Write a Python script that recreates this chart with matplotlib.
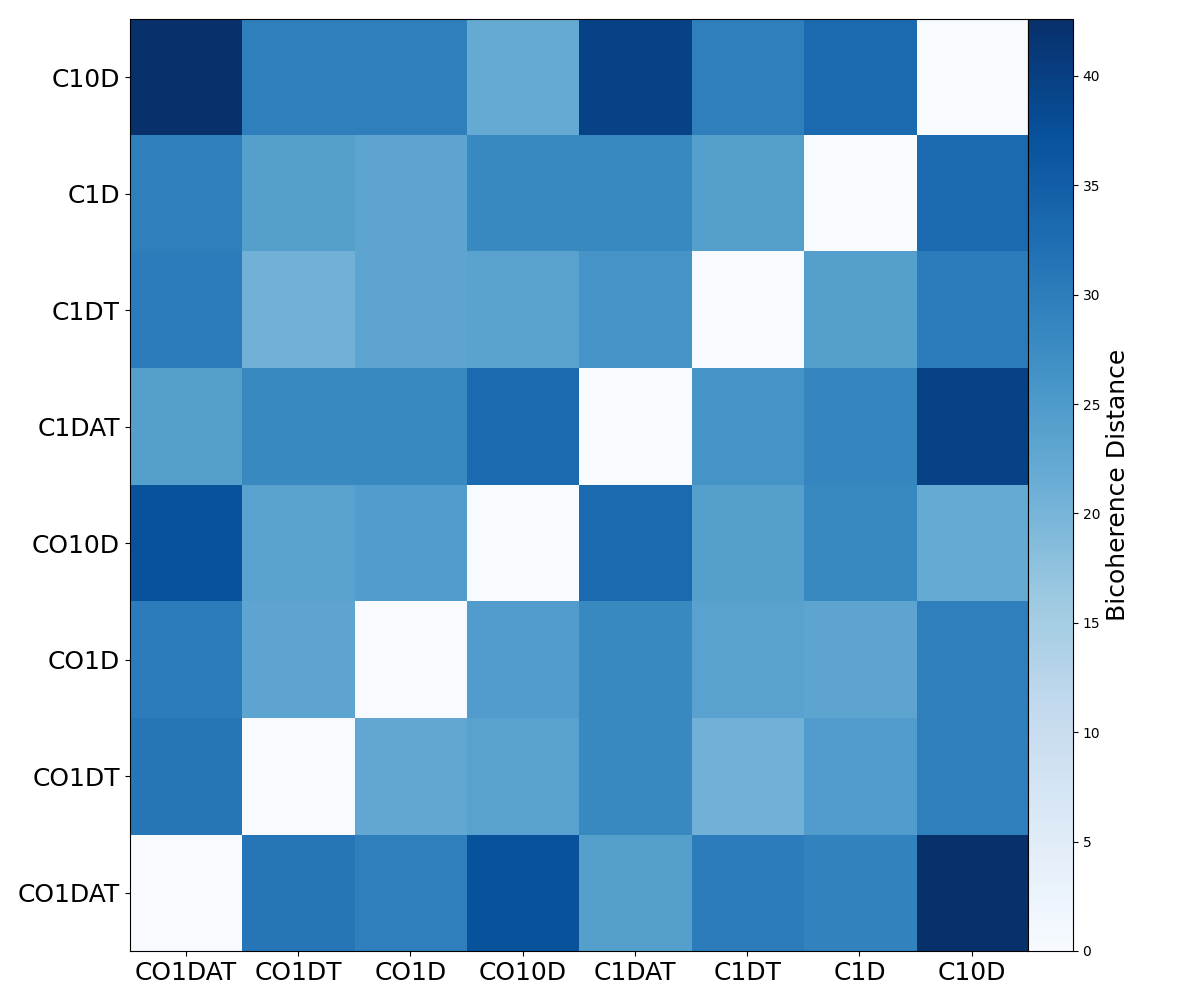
import numpy as np
import matplotlib
matplotlib.use("Agg")
import matplotlib.pyplot as plt
from mpl_toolkits.axes_grid1 import make_axes_locatable

labels = ["CO1DAT", "CO1DT", "CO1D", "CO10D", "C1DAT", "C1DT", "C1D", "C10D"]

# distance matrix, row i = labels[i] (row 0 drawn at the bottom)
row_co1dat = [0.0, 31.0, 29.5, 37.0, 24.0, 30.0, 29.0, 42.6]
row_co1dt = [31.0, 0.0, 22.5, 23.5, 28.0, 20.5, 24.5, 29.5]
row_co1d = [30.0, 23.0, 0.0, 24.5, 28.0, 23.5, 23.0, 29.5]
row_co10d = [37.0, 23.5, 24.5, 0.0, 33.0, 24.0, 28.0, 22.0]
row_c1dat = [24.0, 28.0, 28.0, 33.0, 0.0, 26.0, 28.5, 39.5]
row_c1dt = [30.0, 20.5, 23.0, 23.5, 26.0, 0.0, 24.0, 30.0]
row_c1d = [29.5, 24.0, 23.0, 28.0, 28.0, 24.0, 0.0, 33.0]
row_c10d = [42.6, 29.5, 29.5, 22.0, 39.5, 29.5, 33.0, 0.0]

dist = np.array([row_co1dat, row_co1dt, row_co1d, row_co10d,
                 row_c1dat, row_c1dt, row_c1d, row_c10d])


def main():
    fig = plt.figure(figsize=(12, 10), dpi=100)
    ax = fig.add_axes([0.108, 0.049, 0.786, 0.932])

    im = ax.imshow(dist, cmap="Blues", origin="lower", aspect="auto",
                   interpolation="nearest")
    ax.set_xticks(range(len(labels)))
    ax.set_xticklabels(labels, fontsize=18)
    ax.set_yticks(range(len(labels)))
    ax.set_yticklabels(labels, fontsize=18)

    divider = make_axes_locatable(ax)
    cax = divider.append_axes("right", size="5%", pad=0)
    cb = fig.colorbar(im, cax=cax)
    cb.set_label("Bicoherence Distance", fontsize=18)

    fig.savefig("out.png", dpi=100)


if __name__ == "__main__":
    main()
